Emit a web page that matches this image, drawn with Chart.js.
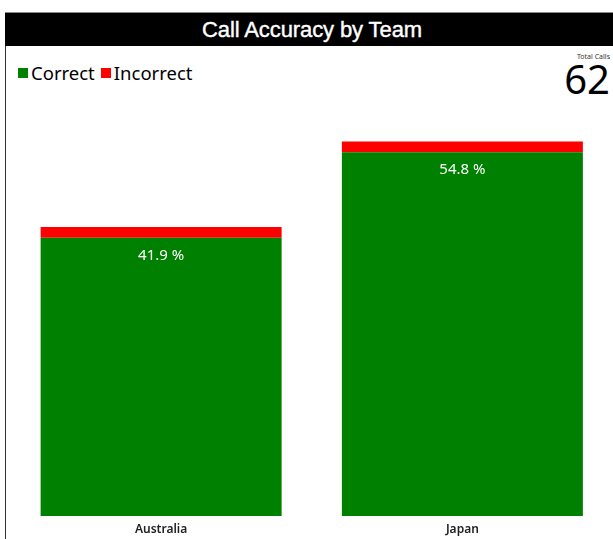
<!DOCTYPE html>
<html>
<head>
<meta charset="utf-8">
<script src="https://cdn.jsdelivr.net/npm/chart.js@4.4.1/dist/chart.umd.min.js"></script>
<style>
  html, body { margin: 0; padding: 0; background: #fff; }
  body { width: 613px; height: 539px; position: relative; overflow: hidden; font-family: "Noto Sans", sans-serif; }
  #title { position: absolute; left: 5px; top: 12px; width: 608px; height: 34px; background: #000; border-top: 1px solid #888;
    color: #fff; font-family: "Liberation Sans", Arial, sans-serif; font-size: 22px; line-height: 33px; text-align: center;
    box-sizing: border-box; padding-left: 6px; letter-spacing: -0.1px; -webkit-text-stroke: 0.4px #fff; }
  #frame { position: absolute; left: 5px; top: 46px; width: 1px; height: 493px; background: #333; }
  #legend { position: absolute; left: 18px; top: 60px; display: flex; font-size: 18.5px; color: #000; }
  #legend .item { display: flex; align-items: center; margin-right: 6px; }
  #legend .box { width: 10px; height: 10px; margin-right: 3px; }
  #total { position: absolute; right: 3px; top: 52px; text-align: right; }
  #total .lbl { font-size: 7px; color: #333; line-height: 9px; }
  #total .num { font-size: 40px; line-height: 36px; color: #000; }
  #wrap { position: absolute; left: 6px; top: 46px; width: 607px; height: 500px; }
</style>
</head>
<body>
<div id="title">Call Accuracy by Team</div>
<div id="frame"></div>
<div id="legend"></div>
<div id="total"><div class="lbl">Total Calls</div><div class="num" id="totalNum"></div></div>
<div id="wrap"><canvas id="chart"></canvas></div>
<script>
// data
const teams = ['Australia', 'Japan'];
const correct = [26, 34];
const incorrect = [1, 1];
const seriesNames = ['Correct', 'Incorrect'];
const seriesColors = ['#008000', '#ff0000'];

const totalCalls = correct.concat(incorrect).reduce((a, b) => a + b, 0);
document.getElementById('totalNum').textContent = totalCalls;

// html legend from chart's own legend items
const htmlLegend = {
  id: 'htmlLegend',
  afterUpdate(chart) {
    const box = document.getElementById('legend');
    box.innerHTML = '';
    const items = chart.options.plugins.legend.labels.generateLabels(chart);
    items.forEach(it => {
      const el = document.createElement('div');
      el.className = 'item';
      el.innerHTML = `<span class="box" style="background:${it.fillStyle}"></span><span>${it.text}</span>`;
      box.appendChild(el);
    });
  }
};

// percentage labels inside the green bars
const pctLabels = {
  id: 'pctLabels',
  afterDatasetsDraw(chart) {
    const ctx = chart.ctx;
    const meta = chart.getDatasetMeta(0);
    ctx.save();
    ctx.fillStyle = '#fff';
    ctx.font = '15px "Noto Sans", sans-serif';
    ctx.textAlign = 'center';
    ctx.textBaseline = 'middle';
    meta.data.forEach((bar, i) => {
      const pct = (correct[i] / totalCalls * 100).toFixed(1) + ' %';
      ctx.fillText(pct, bar.x, bar.y + 18);
    });
    ctx.restore();
  }
};

new Chart(document.getElementById('chart'), {
  type: 'bar',
  data: {
    labels: teams,
    datasets: [
      { label: seriesNames[0], data: correct, backgroundColor: seriesColors[0], barPercentage: 0.8, categoryPercentage: 1 },
      { label: seriesNames[1], data: incorrect, backgroundColor: seriesColors[1], barPercentage: 0.8, categoryPercentage: 1 },
    ],
  },
  options: {
    responsive: true,
    maintainAspectRatio: false,
    animation: false,
    layout: { padding: { top: 42, left: 4.5, right: 0, bottom: 3.6 } },
    plugins: { legend: { display: false }, tooltip: { enabled: false } },
    scales: {
      x: { stacked: true, grid: { display: false, drawTicks: false }, border: { display: false },
        ticks: { padding: 6, color: '#222', font: { family: '"Noto Sans", sans-serif', size: 12, weight: '600' } } },
      y: { stacked: true, display: false, min: 0, max: 40 },
    },
  },
  plugins: [htmlLegend, pctLabels],
});
</script>
</body>
</html>
